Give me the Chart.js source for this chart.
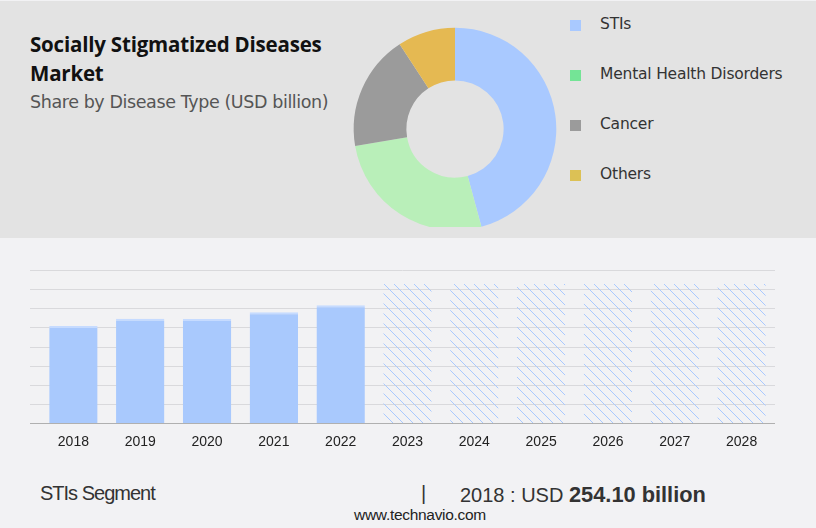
<!DOCTYPE html>
<html>
<head>
<meta charset="utf-8">
<script src="https://cdn.jsdelivr.net/npm/chart.js@4.4.1/dist/chart.umd.min.js"></script>
<style>
  html, body { margin:0; padding:0; }
  body { width:816px; height:528px; position:relative; overflow:hidden; background:#f2f2f4; font-family:"Open Sans", sans-serif; }
  #top { position:absolute; left:0; top:1px; width:816px; height:237px; background:#e3e3e3; }
  #title { position:absolute; left:30px; top:30px; font-family:"Open Sans", sans-serif; font-weight:700; font-size:20.5px; line-height:29px; color:#111; letter-spacing:-0.2px; }
  #subtitle { position:absolute; left:30px; top:92px; font-family:"DejaVu Sans", sans-serif; font-weight:400; font-size:17.5px; color:#555; letter-spacing:-0.4px; }
  #donutWrap { position:absolute; left:350px; top:0; width:210px; height:227px; overflow:hidden; }
  #donutWrap canvas { position:absolute; left:0; top:23.6px; }
  #legend { position:absolute; left:570px; top:0; }
  .li { position:absolute; left:0; width:240px; height:20px; }
  .sw { position:absolute; left:0; top:0; width:11px; height:11px; }
  .lt { position:absolute; left:30px; top:-5px; font-family:"DejaVu Sans", sans-serif; font-size:15.5px; color:#333; white-space:nowrap; letter-spacing:-0.2px; }
  #barWrap { position:absolute; left:0; top:240px; width:816px; height:220px; }
  #footer { position:absolute; left:0; top:482px; width:816px; font-family:"Liberation Sans", sans-serif; font-size:20px; color:#333; }
  #seg { position:absolute; left:40px; top:0; letter-spacing:-1px; }
  #bar { position:absolute; left:421px; top:0; }
  #val { position:absolute; left:460px; top:0; white-space:nowrap; }
  #val b { font-weight:700; font-size:21.8px; }
  #url { position:absolute; left:0; top:506px; width:840px; text-align:center; font-family:"Liberation Sans", sans-serif; font-size:15.5px; color:#222; letter-spacing:-0.3px; }
</style>
</head>
<body>
<div id="top"></div>
<div id="title">Socially Stigmatized Diseases<br>Market</div>
<div id="subtitle">Share by Disease Type (USD billion)</div>
<div id="donutWrap"><canvas id="donut" width="210" height="210" style="width:210px;height:210px"></canvas></div>
<div id="legend"></div>
<div id="barWrap"><canvas id="bars" width="816" height="220" style="width:816px;height:220px"></canvas></div>
<div id="footer">
  <span id="seg">STIs Segment</span>
  <span id="bar">|</span>
  <span id="val">2018 : USD <b>254.10 billion</b></span>
</div>
<div id="url">www.technavio.com</div>
<script>
// ---- data ----
const segments = ["STIs", "Mental Health Disorders", "Cancer", "Others"];
const segmentShares = [45.8, 26.5, 18.5, 9.2];
const segmentColors = ["#a9c9ff", "#b9efb9", "#9b9b9b", "#e5b952"];
const legendColors = ["#a9c9ff", "#74e496", "#9b9b9b", "#dcc155"];

const years = ["2018","2019","2020","2021","2022","2023","2024","2025","2026","2027","2028"];
const actualValues = [254.1, 273, 272, 290, 308];
const forecastValues = [369, 369, 369, 369, 369, 369];
const yTicks = [0, 50, 100, 150, 200, 250, 300, 350, 400];

// ---- legend ----
const legend = document.getElementById('legend');
segments.forEach((s, i) => {
  const d = document.createElement('div');
  d.className = 'li';
  d.style.top = (20 + i * 50) + 'px';
  d.innerHTML = '<div class="sw" style="background:' + legendColors[i] + '"></div><div class="lt">' + s + '</div>';
  legend.appendChild(d);
});

// ---- donut ----
new Chart(document.getElementById('donut'), {
  type: 'doughnut',
  data: { labels: segments, datasets: [{ data: segmentShares, backgroundColor: segmentColors, borderWidth: 0 }] },
  options: {
    responsive: false, animation: false, cutout: '48%',
    layout: { padding: 3.7 },
    plugins: { legend: { display: false }, tooltip: { enabled: false } }
  }
});

// ---- hatch pattern ----
function hatch(color) {
  const c = document.createElement('canvas');
  c.width = 10; c.height = 10;
  const g = c.getContext('2d');
  g.strokeStyle = color; g.lineWidth = 1;
  g.beginPath();
  g.moveTo(0, 0); g.lineTo(10, 10);
  g.moveTo(-5, 5); g.lineTo(5, 15);
  g.moveTo(5, -5); g.lineTo(15, 5);
  g.stroke();
  return g.createPattern(c, 'repeat');
}
const pattern = hatch('#a9c9ff');
const allValues = actualValues.concat(forecastValues);
const bgColors = allValues.map((v, i) => i < actualValues.length ? '#a9c9fd' : pattern);
const bdColors = allValues.map((v, i) => i < actualValues.length ? '#c6dbff' : 'rgba(0,0,0,0)');

const gridPlugin = {
  id: 'grid',
  beforeDatasetsDraw(chart) {
    const y = chart.scales.y, ctx = chart.ctx;
    ctx.save();
    ctx.lineWidth = 1;
    yTicks.forEach(t => {
      const py = Math.round(y.getPixelForValue(t)) + 0.5;
      ctx.strokeStyle = t === 0 ? '#b0b0b0' : '#d9d9dc';
      ctx.beginPath(); ctx.moveTo(30, py); ctx.lineTo(775, py); ctx.stroke();
    });
    ctx.restore();
  },
  afterDatasetsDraw(chart) {
    const y = chart.scales.y, ctx = chart.ctx;
    const py = Math.round(y.getPixelForValue(0)) + 0.5;
    ctx.save(); ctx.strokeStyle = '#b0b0b0'; ctx.lineWidth = 1;
    ctx.beginPath(); ctx.moveTo(30, py); ctx.lineTo(775, py); ctx.stroke();
    ctx.restore();
  }
};

new Chart(document.getElementById('bars'), {
  type: 'bar',
  data: { labels: years, datasets: [{ data: allValues, backgroundColor: bgColors, borderColor: bdColors, borderWidth: { top: 2, left: 0, right: 0, bottom: 0 }, borderSkipped: 'bottom' }] },
  options: {
    responsive: false, animation: false,
    layout: { padding: { left: 40, right: 41, top: 30, bottom: 0 } },
    datasets: { bar: { categoryPercentage: 1, barPercentage: 0.724 } },
    scales: {
      y: { display: false, min: 0, max: 400, ticks: { stepSize: 50 } },
      x: {
        grid: { display: false, drawTicks: false },
        border: { display: false },
        ticks: { color: '#222', font: { family: 'Liberation Sans', size: 14 }, padding: 10, maxRotation: 0 },
        afterFit(s) { s.height = 36.7; }
      }
    },
    plugins: { legend: { display: false }, tooltip: { enabled: false } }
  },
  plugins: [gridPlugin]
});
</script>
</body>
</html>
